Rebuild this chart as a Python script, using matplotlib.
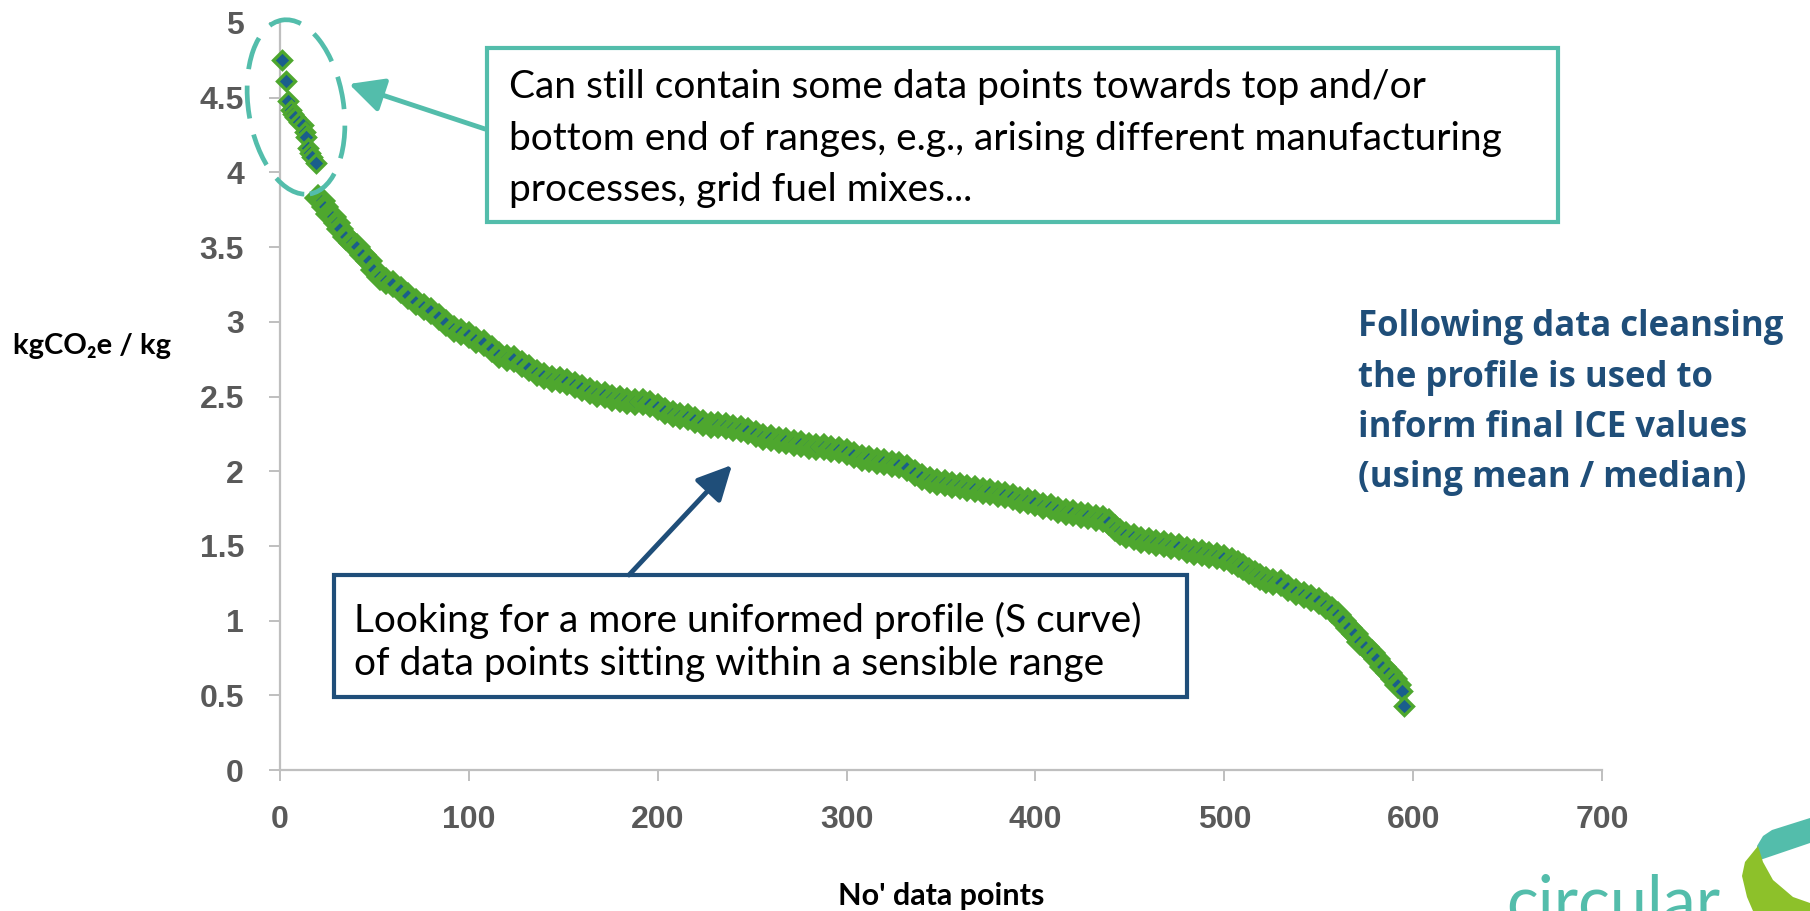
import numpy as np
import matplotlib
matplotlib.use("Agg")
import matplotlib.pyplot as plt
from matplotlib.patches import Ellipse, Rectangle, FancyArrowPatch, Polygon

# sorted emission factors (x = data point number)
outlier_x = [1, 3, 4, 6, 7, 8, 10, 12, 13, 14, 15, 16, 17, 19]
outlier_y = [4.75, 4.61, 4.48, 4.42, 4.39, 4.37, 4.34, 4.32, 4.27, 4.24, 4.16, 4.13, 4.10, 4.06]

curve_x = [20, 22, 24, 26, 28, 30, 32, 35, 38, 41, 44, 47, 50, 53, 56, 60, 64, 68, 72, 76,
           80, 84, 88, 92, 96, 100, 104, 108, 112, 116, 120, 124, 128, 132, 136, 140, 144, 148,
           152, 156, 160, 164, 168, 172, 176, 180, 184, 188, 192, 196, 200, 204, 208, 212, 216,
           220, 224, 228, 232, 236, 240, 244, 248, 252, 256, 260, 264, 268, 272, 276, 280, 284,
           288, 292, 296, 300, 304, 308, 312, 316, 320, 324, 328, 332, 336, 340, 344, 348, 352,
           356, 360, 364, 368, 372, 376, 380, 384, 388, 392, 396, 400, 404, 408, 412, 416, 420,
           424, 428, 432, 436, 439, 442, 445, 448, 452, 456, 460, 464, 468, 472, 476, 480, 484,
           488, 492, 496, 500, 504, 507, 510, 513, 516, 519, 522, 526, 530, 534, 538, 542, 546,
           550, 554, 557, 560, 563, 566, 569, 572, 575, 578, 581, 584, 587, 590, 592]
curve_y = [3.83, 3.81, 3.77, 3.72, 3.70, 3.66, 3.62, 3.57, 3.53, 3.50, 3.45, 3.41, 3.35, 3.30,
           3.27, 3.25, 3.21, 3.17, 3.13, 3.10, 3.07, 3.03, 2.99, 2.95, 2.93, 2.91, 2.88, 2.86,
           2.82, 2.78, 2.76, 2.75, 2.72, 2.69, 2.66, 2.64, 2.62, 2.61, 2.60, 2.58, 2.56, 2.54,
           2.52, 2.51, 2.49, 2.48, 2.47, 2.46, 2.46, 2.45, 2.43, 2.40, 2.38, 2.37, 2.36, 2.34,
           2.32, 2.31, 2.31, 2.30, 2.29, 2.28, 2.27, 2.25, 2.23, 2.22, 2.21, 2.20, 2.19, 2.18,
           2.17, 2.16, 2.16, 2.15, 2.14, 2.13, 2.11, 2.09, 2.08, 2.07, 2.06, 2.05, 2.04, 2.02,
           1.99, 1.96, 1.94, 1.93, 1.92, 1.91, 1.90, 1.89, 1.88, 1.87, 1.86, 1.85, 1.84, 1.83,
           1.81, 1.80, 1.79, 1.77, 1.76, 1.74, 1.73, 1.72, 1.71, 1.70, 1.69, 1.68, 1.66, 1.62,
           1.59, 1.57, 1.56, 1.54, 1.53, 1.52, 1.51, 1.50, 1.49, 1.47, 1.46, 1.45, 1.44, 1.43,
           1.42, 1.40, 1.38, 1.36, 1.33, 1.31, 1.29, 1.27, 1.26, 1.25, 1.22, 1.19, 1.17, 1.15,
           1.13, 1.10, 1.07, 1.04, 1.00, 0.95, 0.91, 0.86, 0.82, 0.78, 0.74, 0.69, 0.65, 0.61,
           0.57]

# the last two points stand apart at the bottom end
tail_x = [594, 595]
tail_y = [0.53, 0.43]

xticks = [0, 100, 200, 300, 400, 500, 600, 700]
yticks = [0, 0.5, 1, 1.5, 2, 2.5, 3, 3.5, 4, 4.5, 5]
ytick_labels = ['0', '0.5', '1', '1.5', '2', '2.5', '3', '3.5', '4', '4.5', '5']

box_top_lines = ["Can still contain some data points towards top and/or",
                 "bottom end of ranges, e.g., arising different manufacturing",
                 "processes, grid fuel mixes..."]
box_bottom_lines = ["Looking for a more uniformed profile (S curve)",
                    "of data points sitting within a sensible range"]
side_lines = ["Following data cleansing", "the profile is used to",
              "inform final ICE values", "(using mean / median)"]

TEAL = '#53BDAB'
NAVY = '#1F4E79'
GREEN = '#4EA72E'
MARK = '#1A5E8C'
GREY = '#595959'

W, H = 1810, 911
fig = plt.figure(figsize=(W / 100, H / 100), dpi=100)
ax = fig.add_axes([280 / W, 1 - 770 / H, (1602 - 280) / W, (770 - 23) / H])


def px(x, y):
    # pixel position (from top-left) -> inches for dpi_scale_trans
    return (x / 100, (H - y) / 100)


# dense middle: neighbouring diamonds hide each other's fill, so mostly green shows
ax.plot(curve_x, curve_y, linestyle='none', marker='D', markersize=10.5,
        markerfacecolor=MARK, markeredgecolor=GREEN, markeredgewidth=4.2, clip_on=False, zorder=3)
ax.plot(outlier_x + tail_x, outlier_y + tail_y, linestyle='none', marker='D', markersize=9,
        markerfacecolor=MARK, markeredgecolor=GREEN, markeredgewidth=2.4, clip_on=False, zorder=4)

ax.set_xlim(0, 700)
ax.set_ylim(0, 5)
ax.set_xticks(xticks)
ax.set_yticks(yticks)
ax.set_yticklabels(ytick_labels)
for s in ['top', 'right']:
    ax.spines[s].set_visible(False)
for s in ['left', 'bottom']:
    ax.spines[s].set_color('#BFBFBF')
    ax.spines[s].set_linewidth(1.6)
ax.tick_params(axis='both', colors='#BFBFBF', length=8, width=1.4, direction='out',
               labelcolor=GREY, labelsize=23)
ax.tick_params(axis='y', pad=18)
ax.tick_params(axis='x', pad=17)
for lab in ax.get_xticklabels() + ax.get_yticklabels():
    lab.set_fontweight('bold')
    lab.set_fontfamily('Liberation Sans')

fig.text(13 / W, 1 - 346 / H, 'kgCO\u2082e / kg', family=['Lato', 'DejaVu Sans'], fontweight='bold',
         fontsize=21, ha='left', va='center', color='black')
fig.text(941 / W, 1 - 896 / H, "No' data points", family='Lato', fontweight='bold',
         fontsize=22, ha='center', va='center', color='black')

tr = fig.dpi_scale_trans

# dashed ellipse round the outliers
fig.add_artist(Ellipse(px(296, 107), 95 / 100, 176 / 100, angle=9, transform=tr, fill=False,
                       edgecolor=TEAL, linewidth=3.4, linestyle=(0, (7, 3.5)), zorder=5))

# top box
fig.add_artist(Rectangle(px(487, 222), (1558 - 487) / 100, (222 - 48) / 100, transform=tr,
                         facecolor='white', edgecolor=TEAL, linewidth=3))
for line, base in zip(box_top_lines, [98, 150, 201]):
    fig.text(509 / W, 1 - base / H, line, family='Lato', fontsize=28, color='black',
             ha='left', va='baseline')
fig.add_artist(FancyArrowPatch(px(485, 129), px(349, 84), transform=tr, color=TEAL,
                               arrowstyle='-|>,head_length=0.7,head_width=0.35',
                               mutation_scale=30, linewidth=3.5, shrinkA=0, shrinkB=0))

# bottom box
fig.add_artist(Rectangle(px(334, 697), (1187 - 334) / 100, (697 - 575) / 100, transform=tr,
                         facecolor='white', edgecolor=NAVY, linewidth=3))
for line, base in zip(box_bottom_lines, [632, 675]):
    fig.text(354 / W, 1 - base / H, line, family='Lato', fontsize=28, color='black',
             ha='left', va='baseline')
fig.add_artist(FancyArrowPatch(px(629, 575), px(732, 465), transform=tr, color=NAVY,
                               arrowstyle='-|>,head_length=0.7,head_width=0.35',
                               mutation_scale=30, linewidth=3.5, shrinkA=0, shrinkB=0))

# side note
for line, base in zip(side_lines, [336, 387, 437, 487]):
    fig.text(1358 / W, 1 - base / H, line, family='Open Sans', fontweight='bold', fontsize=25,
             color=NAVY, ha='left', va='baseline')

# logo in the corner, cut by the bottom edge
fig.text(1506 / W, 1 - 924 / H, 'circular', family='Lato', fontweight='normal', fontsize=48,
         color=TEAL, ha='left', va='baseline')
fig.add_artist(Polygon([px(1772, 830), px(1810, 818), px(1810, 843), px(1760, 860),
                        px(1757, 846), px(1763, 836)], closed=True, transform=tr,
                       facecolor=TEAL, edgecolor='none'))
fig.add_artist(Polygon([px(1758, 846), px(1745, 862), px(1742, 876), px(1747, 897),
                        px(1753, 911), px(1810, 911), px(1810, 903), px(1793, 897),
                        px(1773, 880), px(1763, 862)], closed=True, transform=tr,
                       facecolor='#8DC12A', edgecolor='none'))

fig.savefig('out.png', dpi=100)
